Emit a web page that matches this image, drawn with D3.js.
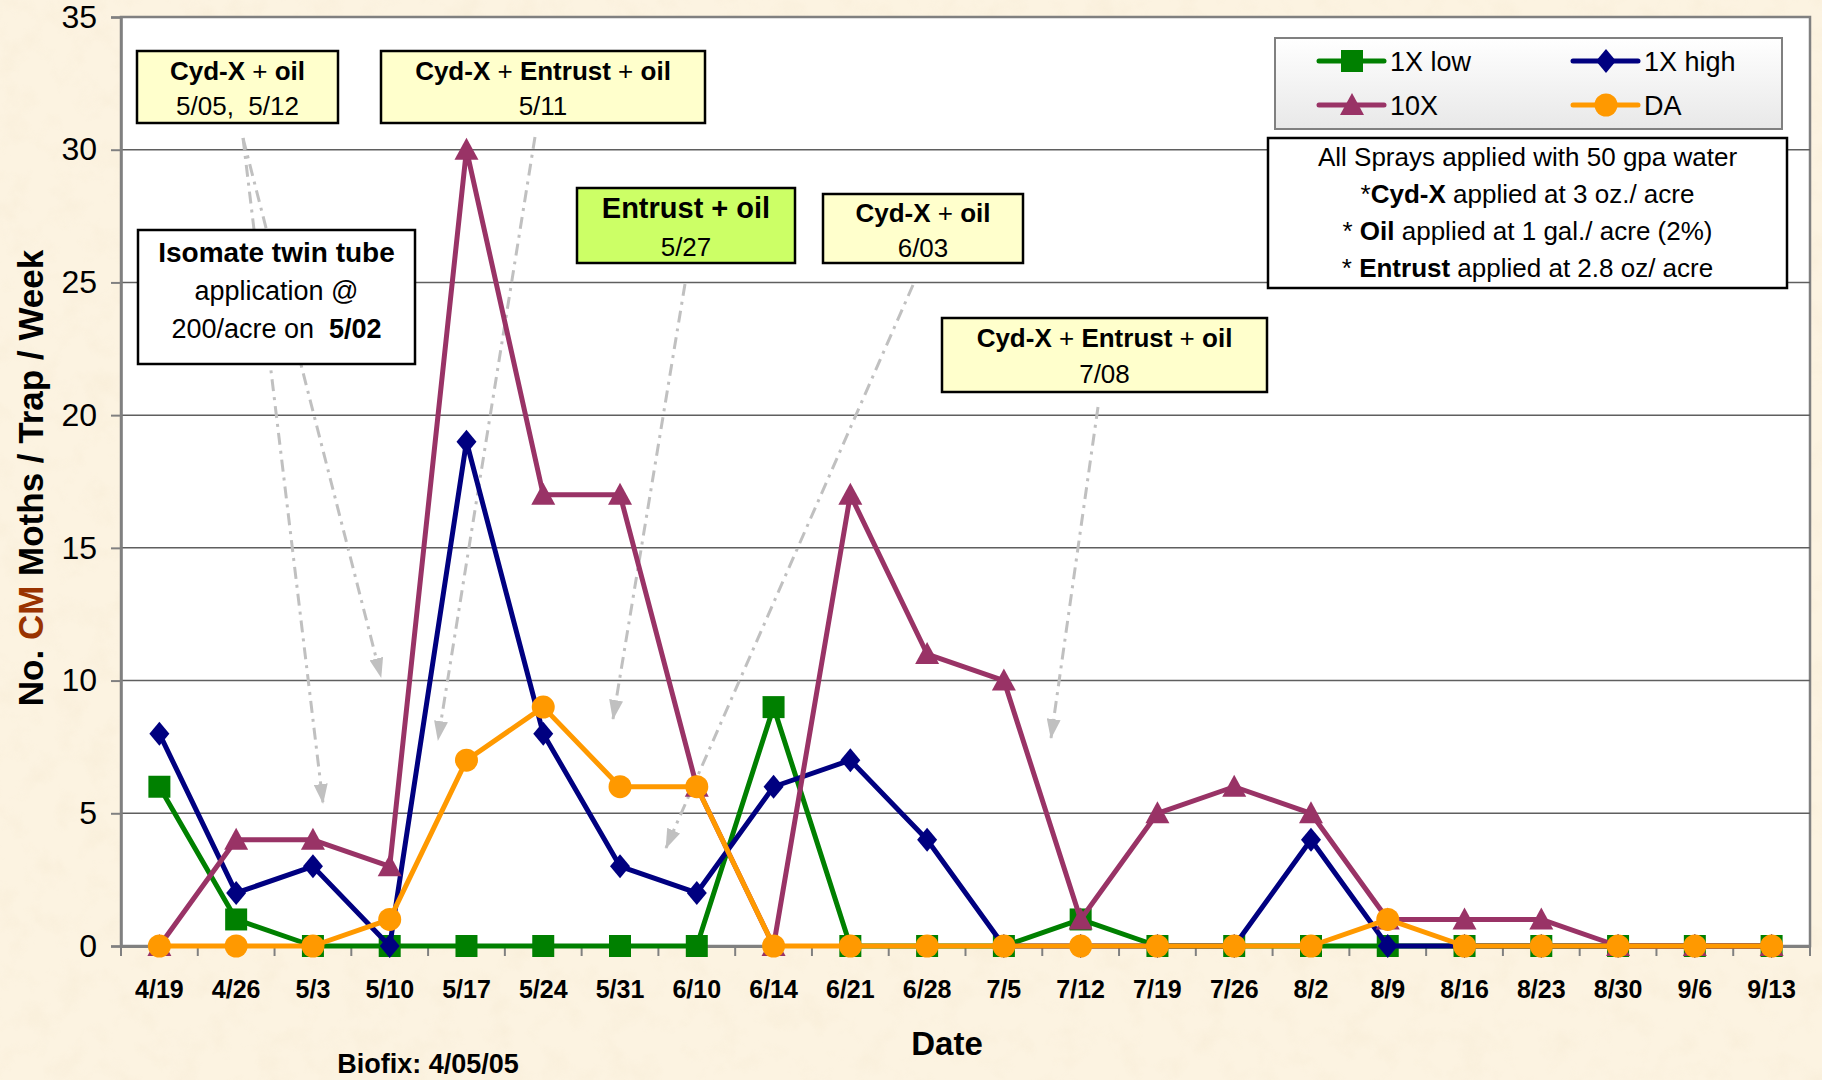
<!DOCTYPE html>
<html><head><meta charset="utf-8">
<script src="https://cdn.jsdelivr.net/npm/d3@7"></script>
<style>
html,body{margin:0;padding:0;background:#FBF1DC;}
svg{display:block;font-family:"Liberation Sans",Arial,sans-serif;}
</style></head>
<body>
<svg id="chart" width="1822" height="1080"></svg>
<script>
// ---------- DATA ----------
const categories = ["4/19","4/26","5/3","5/10","5/17","5/24","5/31","6/10","6/14","6/21","6/28","7/5","7/12","7/19","7/26","8/2","8/9","8/16","8/23","8/30","9/6","9/13"];
const low1X  = [6,1,0,0,0,0,0,0,9,0,0,0,1,0,0,0,0,0,0,0,0,0];
const high1X = [8,2,3,0,19,8,3,2,6,7,4,0,0,0,0,4,0,0,0,0,0,0];
const tenX   = [0,4,4,3,30,17,17,6,0,17,11,10,1,5,6,5,1,1,1,0,0,0];
const DA     = [0,0,0,1,7,9,6,6,0,0,0,0,0,0,0,0,1,0,0,0,0,0];
const yTicks = [0,5,10,15,20,25,30,35];
const seriesNames = ["1X low","1X high","10X","DA"];

// ---------- LAYOUT ----------
const W = 1822, H = 1080;
const plot = {left:121, right:1810, top:17, bottom:946};
const colors = {"1X low":"#008000","1X high":"#000080","10X":"#993366","DA":"#FF9900"};
const shapes = {"1X low":"square","1X high":"diamond","10X":"triangle","DA":"circle"};

const svg = d3.select("#chart");
const defs = svg.append("defs");

// paper texture
const f = defs.append("filter").attr("id","paper").attr("x",0).attr("y",0).attr("width","100%").attr("height","100%");
f.append("feTurbulence").attr("type","fractalNoise").attr("baseFrequency","0.035").attr("numOctaves",4).attr("seed",7).attr("result","n");
f.append("feColorMatrix").attr("in","n").attr("type","matrix")
  .attr("values","0 0 0 0 0.90  0 0 0 0 0.80  0 0 0 0 0.62  1.6 0 0 0 -0.75");
svg.append("rect").attr("width",W).attr("height",H).attr("fill","#FCF3E1");
svg.append("rect").attr("width",W).attr("height",H).attr("filter","url(#paper)").attr("opacity",0.45);

// legend gradient
const lg = defs.append("linearGradient").attr("id","lgGrad").attr("x1",0).attr("y1",0).attr("x2",0).attr("y2",1);
lg.append("stop").attr("offset","0%").attr("stop-color","#FFFFFF");
lg.append("stop").attr("offset","100%").attr("stop-color","#E8E8E8");

// arrowhead
defs.append("marker").attr("id","arr").attr("viewBox","0 0 20 14").attr("refX",19).attr("refY",7)
  .attr("markerWidth",20).attr("markerHeight",14).attr("markerUnits","userSpaceOnUse").attr("orient","auto")
  .append("path").attr("d","M0,0 L20,7 L0,14 Z").attr("fill","#C0C0C0");

// scales
const x = d3.scaleBand().domain(categories).range([plot.left, plot.right]).padding(0);
const xc = c => x(c) + x.bandwidth()/2;
const y = d3.scaleLinear().domain([0,35]).range([plot.bottom, plot.top]);

// plot area
svg.append("rect").attr("x",plot.left).attr("y",plot.top).attr("width",plot.right-plot.left).attr("height",plot.bottom-plot.top)
  .attr("fill","#FFFFFF").attr("stroke","#808080").attr("stroke-width",2.5);

// gridlines
svg.append("g").selectAll("line").data(yTicks.filter(t=>t>0 && t<35)).join("line")
  .attr("x1",plot.left).attr("x2",plot.right).attr("y1",d=>y(d)).attr("y2",d=>y(d))
  .attr("stroke","#5f5f5f").attr("stroke-width",1.5);

// y axis
const yAxis = svg.append("g").attr("transform",`translate(${plot.left},0)`)
  .call(d3.axisLeft(y).tickValues(yTicks).tickSize(10).tickPadding(14).tickFormat(d3.format("d")));
yAxis.select(".domain").attr("stroke","#808080").attr("stroke-width",2.5);
yAxis.selectAll(".tick line").attr("stroke","#808080").attr("stroke-width",2);
yAxis.selectAll(".tick text").attr("font-size",32).attr("fill","#000").attr("font-family","Liberation Sans, Arial, sans-serif");

// x axis
const xAxis = svg.append("g").attr("transform",`translate(0,${plot.bottom})`)
  .call(d3.axisBottom(x).tickSize(0).tickPadding(34));
xAxis.select(".domain").attr("stroke","#808080").attr("stroke-width",3);
xAxis.selectAll(".tick text").attr("font-size",25).attr("font-weight","bold").attr("fill","#000")
  .attr("font-family","Liberation Sans, Arial, sans-serif");
// boundary ticks
svg.append("g").selectAll("line").data(categories.concat(["_end"])).join("line")
  .attr("x1",(d,i)=>plot.left + i*x.bandwidth()).attr("x2",(d,i)=>plot.left + i*x.bandwidth())
  .attr("y1",plot.bottom).attr("y2",plot.bottom+10).attr("stroke","#808080").attr("stroke-width",2);

// axis titles
const yl = svg.append("text").attr("transform","translate(43,478) rotate(-90)").attr("text-anchor","middle")
  .attr("font-size",35).attr("font-weight","bold");
yl.append("tspan").text("No. ");
yl.append("tspan").attr("fill","#993300").text("CM");
yl.append("tspan").text(" Moths / Trap /  Week");
svg.append("text").attr("x",947).attr("y",1055).attr("text-anchor","middle").attr("font-size",33).attr("font-weight","bold").text("Date");
svg.append("text").attr("x",428).attr("y",1073).attr("text-anchor","middle").attr("font-size",27).attr("font-weight","bold").text("Biofix: 4/05/05");

// ---------- annotation boxes ----------
function box(x0,y0,w,h,fill,stroke,sw){
  svg.append("rect").attr("x",x0).attr("y",y0).attr("width",w).attr("height",h).attr("fill",fill).attr("stroke",stroke).attr("stroke-width",sw);
}
function richLine(cx,by,parts,size){
  const t = svg.append("text").attr("x",cx).attr("y",by).attr("text-anchor","middle").attr("font-size",size).attr("xml:space","preserve");
  parts.forEach(p=>t.append("tspan").attr("font-weight",p[1]?"bold":"normal").text(p[0]));
}
const boxes = [
  {x:137,y:51,w:201,h:72,fill:"#FFFFCC",lines:[{by:80,size:26,parts:[["Cyd-X",1],[" + ",0],["oil",1]]},{by:115,size:26,parts:[["5/05,  5/12",0]]}]},
  {x:381,y:51,w:324,h:72,fill:"#FFFFCC",lines:[{by:80,size:26,parts:[["Cyd-X",1],[" + ",0],["Entrust",1],[" + ",0],["oil",1]]},{by:115,size:26,parts:[["5/11",0]]}]},
  {x:577,y:188,w:218,h:75,fill:"#CCFF66",lines:[{by:218,size:29,parts:[["Entrust + oil",1]]},{by:256,size:26,parts:[["5/27",0]]}]},
  {x:823,y:194,w:200,h:69,fill:"#FFFFCC",lines:[{by:222,size:26,parts:[["Cyd-X",1],[" + ",0],["oil",1]]},{by:257,size:26,parts:[["6/03",0]]}]},
  {x:942,y:318,w:325,h:74,fill:"#FFFFCC",lines:[{by:347,size:26,parts:[["Cyd-X",1],[" + ",0],["Entrust",1],[" + ",0],["oil",1]]},{by:383,size:26,parts:[["7/08",0]]}]},
  {x:138,y:230,w:277,h:134,fill:"#FFFFFF",lines:[{by:262,size:28,parts:[["Isomate twin tube",1]]},{by:300,size:27,parts:[["application @",0]]},{by:338,size:27,parts:[["200/acre on  ",0],["5/02",1]]}]},
  {x:1268,y:138,w:519,h:150,fill:"#FFFFFF",lines:[
    {by:166,size:26,parts:[["All Sprays applied with 50 gpa water",0]]},
    {by:203,size:26,parts:[["*",0],["Cyd-X",1],[" applied at 3 oz./ acre",0]]},
    {by:240,size:26,parts:[["* ",0],["Oil",1],[" applied at 1 gal./ acre (2%)",0]]},
    {by:277,size:26,parts:[["* ",0],["Entrust",1],[" applied at 2.8 oz/ acre",0]]}]}
];
const arrows = [
  [243,138,323,803],[243,138,381,677],[535,137,438,740],[685,284,613,719],[913,285,666,848],[1098,407,1051,738]
];

// arrows (behind series)
svg.append("g").selectAll("line").data(arrows).join("line")
  .attr("x1",d=>d[0]).attr("y1",d=>d[1]).attr("x2",d=>d[2]).attr("y2",d=>d[3])
  .attr("stroke","#C0C0C0").attr("stroke-width",3).attr("stroke-dasharray","12,6,3,6").attr("marker-end","url(#arr)");

// ---------- series ----------
function symPath(shape){
  switch(shape){
    case "square": return "M-11,-11H11V11H-11Z";
    case "diamond": return "M0,-12L10,0L0,12L-10,0Z";
    case "triangle": return "M0,-12L12,10H-12Z";
    case "circle": return d3.symbol(d3.symbolCircle, Math.PI*11.5*11.5)();
  }
}
const seriesData = {"1X low":low1X,"1X high":high1X,"10X":tenX,"DA":DA};
const line = d3.line().x((d,i)=>xc(categories[i])).y(d=>y(d));
seriesNames.forEach(name=>{
  const vals = seriesData[name];
  const g = svg.append("g");
  g.append("path").attr("d",line(vals)).attr("fill","none").attr("stroke",colors[name]).attr("stroke-width",5).attr("stroke-linejoin","round");
  g.selectAll("path.m").data(vals).join("path").attr("class","m")
    .attr("transform",(d,i)=>`translate(${xc(categories[i])},${y(d)})`)
    .attr("d",symPath(shapes[name])).attr("fill",colors[name]);
});

// boxes on top
boxes.forEach(b=>{
  box(b.x,b.y,b.w,b.h,b.fill,"#000",2.5);
  b.lines.forEach(l=>richLine(b.x+b.w/2,l.by,l.parts,l.size));
});

// legend
svg.append("rect").attr("x",1275).attr("y",38).attr("width",507).attr("height",91).attr("fill","url(#lgGrad)").attr("stroke","#808080").attr("stroke-width",2);
const legPos = [{n:"1X low",x:1319,y:61},{n:"1X high",x:1573,y:61},{n:"10X",x:1319,y:105},{n:"DA",x:1573,y:105}];
legPos.forEach(p=>{
  const g = svg.append("g");
  g.append("line").attr("x1",p.x).attr("x2",p.x+65).attr("y1",p.y).attr("y2",p.y).attr("stroke",colors[p.n]).attr("stroke-width",5).attr("stroke-linecap","round");
  g.append("path").attr("transform",`translate(${p.x+33},${p.y})`).attr("d",symPath(shapes[p.n])).attr("fill",colors[p.n]);
  g.append("text").attr("x",p.x+71).attr("y",p.y+9.5).attr("font-size",27).text(p.n);
});
</script>
</body></html>
